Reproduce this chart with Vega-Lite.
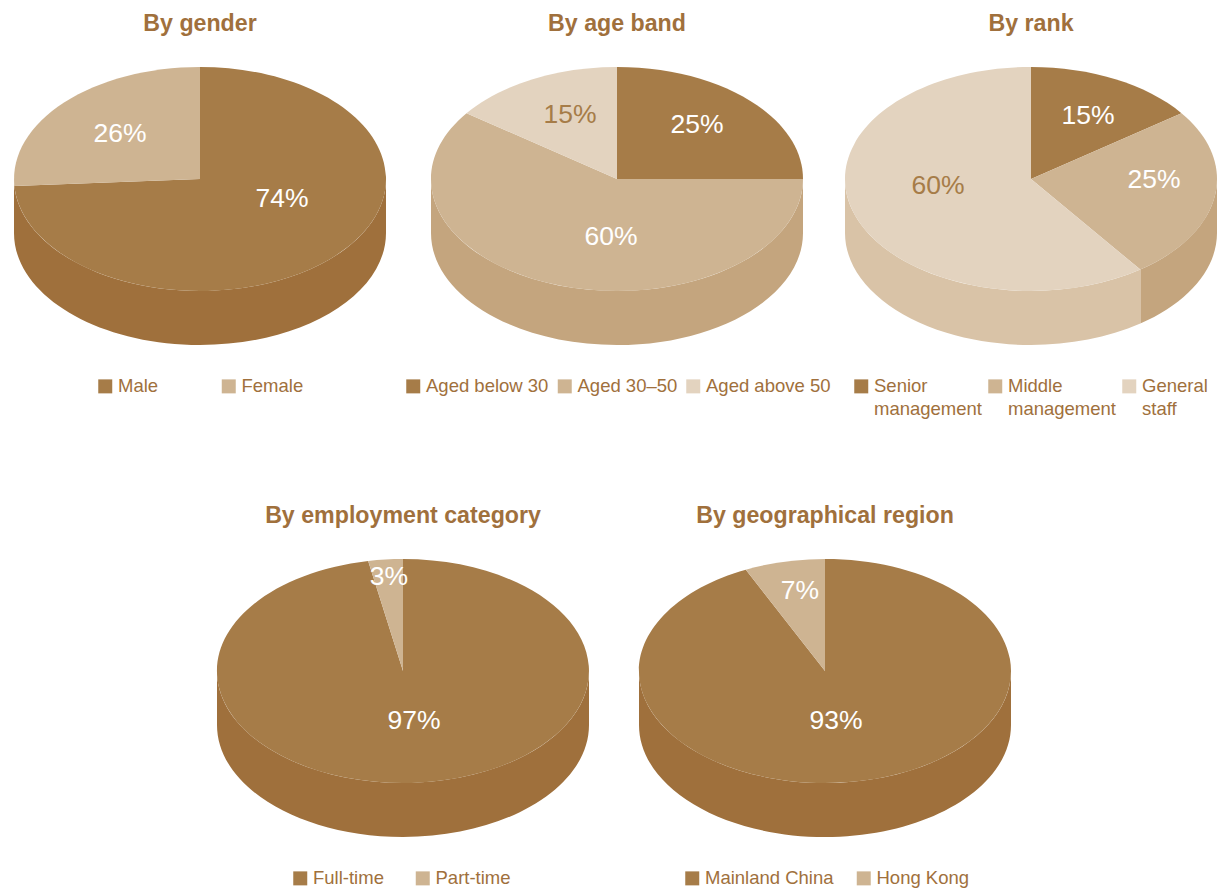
{
"$schema":"https://vega.github.io/schema/vega-lite/v6.json",
"padding":{"left":14,"top":11,"right":5,"bottom":5},
"bounds":"flush",
"align":"none",
"columns":3,
"spacing":{"row":214,"column":45},
"resolve":{"scale":{"fill":"independent","color":"independent","shape":"independent"},"legend":{"fill":"independent"}},
"config":{"font":"Liberation Sans","view":{"stroke":null},"style":{"guide-label":{"lineHeight":23}},"title":{"fontSize":23.2,"fontWeight":"bold","color":"#a0703c","anchor":"middle","offset":31},"legend":{"labelFontSize":18.5,"labelColor":"#a0703c","symbolType":"square","symbolSize":196,"symbolStrokeWidth":0,"labelOffset":3.5,"padding":0,"labelLimit":300,"rowPadding":0},"text":{"fontSize":26.5,"color":"#ffffff"},"point":{"filled":true,"size":4,"opacity":1,"strokeWidth":0}},
"datasets":{"slices":[
{"panel":"gender","slice":"Male","share":0.74},
{"panel":"gender","slice":"Female","share":0.26},
{"panel":"age","slice":"Aged below 30","share":0.25},
{"panel":"age","slice":"Aged 30–50","share":0.60},
{"panel":"age","slice":"Aged above 50","share":0.15},
{"panel":"rank","slice":"Senior management","share":0.15},
{"panel":"rank","slice":"Middle management","share":0.25},
{"panel":"rank","slice":"General staff","share":0.60},
{"panel":"employment","slice":"Full-time","share":0.97},
{"panel":"employment","slice":"Part-time","share":0.03},
{"panel":"region","slice":"Mainland China","share":0.93},
{"panel":"region","slice":"Hong Kong","share":0.07}
]},
"concat":[
{"width":372,"height":278,"title":"By gender","data":{"name":"slices"},"transform":[{"filter":"datum.panel==='gender'"}],
"resolve":{"scale":{"shape":"independent"}},
"layer":[
{"transform":[{"filter":"datum.slice==='Male'"}],"mark":{"type":"point"},"encoding":{"color":{"field":"slice","type":"nominal","legend":null,"scale":{"domain":["Male"],"range":["#9f703c"]}},
"shape":{"field":"slice","type":"nominal","legend":null,"scale":{"domain":["Male"],"range":["M186,-27A186,112 0 0 1 -186,-27L-186,27A186,112 0 0 0 186,27Z"]}}}},
{"mark":{"type":"point"},"encoding":{"fill":{"field":"slice","type":"nominal","scale":{"domain":["Male","Female"],"range":["#a67c48","#ceb492"]},"legend":{"title":null,"orient":"none","columns":2,"columnPadding":60.5,"legendX":82,"legendY":310}},
"shape":{"field":"slice","type":"nominal","legend":null,"scale":{"domain":["Male","Female"],"range":["M0,-27L0,-139A186,112 0 1 1 -185.6,-19.97Z","M0,-27L-185.6,-19.97A186,112 0 0 1 0,-139Z"]}}}},
{"transform":[{"filter":"datum.slice==='Male'"}],"mark":{"type":"text","dx":82,"dy":-7},"encoding":{"text":{"field":"share","type":"quantitative","format":".0%"}}},
{"transform":[{"filter":"datum.slice==='Female'"}],"mark":{"type":"text","dx":-80,"dy":-72},"encoding":{"text":{"field":"share","type":"quantitative","format":".0%"}}}
]},
{"width":372,"height":278,"title":"By age band","data":{"name":"slices"},"transform":[{"filter":"datum.panel==='age'"}],
"resolve":{"scale":{"shape":"independent"}},
"layer":[
{"transform":[{"filter":"datum.slice==='Aged 30–50'"}],"mark":{"type":"point"},"encoding":{"color":{"field":"slice","type":"nominal","legend":null,"scale":{"domain":["Aged 30–50"],"range":["#c4a57e"]}},
"shape":{"field":"slice","type":"nominal","legend":null,"scale":{"domain":["Aged 30–50"],"range":["M186,-27A186,112 0 0 1 -186,-27L-186,27A186,112 0 0 0 186,27Z"]}}}},
{"mark":{"type":"point"},"encoding":{"fill":{"field":"slice","type":"nominal","scale":{"domain":["Aged below 30","Aged 30–50","Aged above 50"],"range":["#a67c48","#ceb492","#e3d3bf"]},"legend":{"title":null,"orient":"none","columns":3,"columnPadding":6.5,"legendX":-27,"legendY":310}},
"shape":{"field":"slice","type":"nominal","legend":null,"scale":{"domain":["Aged below 30","Aged 30–50","Aged above 50"],"range":["M0,-27L0,-139A186,112 0 0 1 186,-27Z","M0,-27L186,-27A186,112 0 1 1 -150.48,-92.83Z","M0,-27L-150.48,-92.83A186,112 0 0 1 0,-139Z"]}}}},
{"transform":[{"filter":"datum.slice==='Aged below 30'"}],"mark":{"type":"text","dx":80,"dy":-81},"encoding":{"text":{"field":"share","type":"quantitative","format":".0%"}}},
{"transform":[{"filter":"datum.slice==='Aged 30–50'"}],"mark":{"type":"text","dx":-6,"dy":31},"encoding":{"text":{"field":"share","type":"quantitative","format":".0%"}}},
{"transform":[{"filter":"datum.slice==='Aged above 50'"}],"mark":{"type":"text","dx":-47,"dy":-91,"color":"#a67c48"},"encoding":{"text":{"field":"share","type":"quantitative","format":".0%"}}}
]},
{"width":366,"height":278,"title":"By rank","data":{"name":"slices"},"transform":[{"filter":"datum.panel==='rank'"}],
"resolve":{"scale":{"shape":"independent"}},
"layer":[
{"transform":[{"filter":"datum.slice!=='Senior management'"}],"mark":{"type":"point"},"encoding":{"color":{"field":"slice","type":"nominal","legend":null,"scale":{"domain":["Middle management","General staff"],"range":["#c4a57e","#d9c3a7"]}},
"shape":{"field":"slice","type":"nominal","legend":null,"scale":{"domain":["Middle management","General staff"],"range":["M186,-27A186,112 0 0 1 109.33,63.61L109.33,117.61A186,112 0 0 0 186,27Z","M109.33,63.61A186,112 0 0 1 -186,-27L-186,27A186,112 0 0 0 109.33,117.61Z"]}}}},
{"mark":{"type":"point"},"encoding":{"fill":{"field":"slice","type":"nominal","scale":{"domain":["Senior management","Middle management","General staff"],"range":["#a67c48","#ceb492","#e3d3bf"]},"legend":{"title":null,"orient":"none","columns":3,"columnPadding":4,"legendX":4,"legendY":310,"labelExpr":"split(datum.label,' ')"}},
"shape":{"field":"slice","type":"nominal","legend":null,"scale":{"domain":["Senior management","Middle management","General staff"],"range":["M0,-27L0,-139A186,112 0 0 1 150.48,-92.83Z","M0,-27L150.48,-92.83A186,112 0 0 1 109.33,63.61Z","M0,-27L109.33,63.61A186,112 0 1 1 0,-139Z"]}}}},
{"transform":[{"filter":"datum.slice==='Senior management'"}],"mark":{"type":"text","dx":57,"dy":-90},"encoding":{"text":{"field":"share","type":"quantitative","format":".0%"}}},
{"transform":[{"filter":"datum.slice==='Middle management'"}],"mark":{"type":"text","dx":123,"dy":-26},"encoding":{"text":{"field":"share","type":"quantitative","format":".0%"}}},
{"transform":[{"filter":"datum.slice==='General staff'"}],"mark":{"type":"text","dx":-93,"dy":-20,"color":"#a67c48"},"encoding":{"text":{"field":"share","type":"quantitative","format":".0%"}}}
]},
{"width":372,"height":278,"title":{"text":"By employment category","dx":203},"data":{"name":"slices"},"transform":[{"filter":"datum.panel==='employment'"}],
"resolve":{"scale":{"shape":"independent"}},
"layer":[
{"transform":[{"filter":"datum.slice==='Full-time'"}],"mark":{"type":"point","xOffset":203},"encoding":{"color":{"field":"slice","type":"nominal","legend":null,"scale":{"domain":["Full-time"],"range":["#9f703c"]}},
"shape":{"field":"slice","type":"nominal","legend":null,"scale":{"domain":["Full-time"],"range":["M186,-27A186,112 0 0 1 -186,-27L-186,27A186,112 0 0 0 186,27Z"]}}}},
{"mark":{"type":"point","xOffset":203},"encoding":{"fill":{"field":"slice","type":"nominal","scale":{"domain":["Full-time","Part-time"],"range":["#a67c48","#ceb492"]},"legend":{"title":null,"orient":"none","columns":2,"columnPadding":29.5,"legendX":277,"legendY":310}},
"shape":{"field":"slice","type":"nominal","legend":null,"scale":{"domain":["Full-time","Part-time"],"range":["M0,-27L0,-139A186,112 0 1 1 -34.85,-137.02Z","M0,-27L-34.85,-137.02A186,112 0 0 1 0,-139Z"]}}}},
{"transform":[{"filter":"datum.slice==='Full-time'"}],"mark":{"type":"text","dx":214,"dy":23},"encoding":{"text":{"field":"share","type":"quantitative","format":".0%"}}},
{"transform":[{"filter":"datum.slice==='Part-time'"}],"mark":{"type":"text","dx":189,"dy":-121},"encoding":{"text":{"field":"share","type":"quantitative","format":".0%"}}}
]},
{"width":372,"height":278,"title":{"text":"By geographical region","dx":208},"data":{"name":"slices"},"transform":[{"filter":"datum.panel==='region'"}],
"resolve":{"scale":{"shape":"independent"}},
"layer":[
{"transform":[{"filter":"datum.slice==='Mainland China'"}],"mark":{"type":"point","xOffset":208},"encoding":{"color":{"field":"slice","type":"nominal","legend":null,"scale":{"domain":["Mainland China"],"range":["#9f703c"]}},
"shape":{"field":"slice","type":"nominal","legend":null,"scale":{"domain":["Mainland China"],"range":["M186,-27A186,112 0 0 1 -186,-27L-186,27A186,112 0 0 0 186,27Z"]}}}},
{"mark":{"type":"point","xOffset":208},"encoding":{"fill":{"field":"slice","type":"nominal","scale":{"domain":["Mainland China","Hong Kong"],"range":["#a67c48","#ceb492"]},"legend":{"title":null,"orient":"none","columns":2,"columnPadding":20.5,"legendX":252,"legendY":310}},
"shape":{"field":"slice","type":"nominal","legend":null,"scale":{"domain":["Mainland China","Hong Kong"],"range":["M0,-27L0,-139A186,112 0 1 1 -79.2,-128.34Z","M0,-27L-79.2,-128.34A186,112 0 0 1 0,-139Z"]}}}},
{"transform":[{"filter":"datum.slice==='Mainland China'"}],"mark":{"type":"text","dx":219,"dy":23},"encoding":{"text":{"field":"share","type":"quantitative","format":".0%"}}},
{"transform":[{"filter":"datum.slice==='Hong Kong'"}],"mark":{"type":"text","dx":183,"dy":-107},"encoding":{"text":{"field":"share","type":"quantitative","format":".0%"}}}
]}
]
}
